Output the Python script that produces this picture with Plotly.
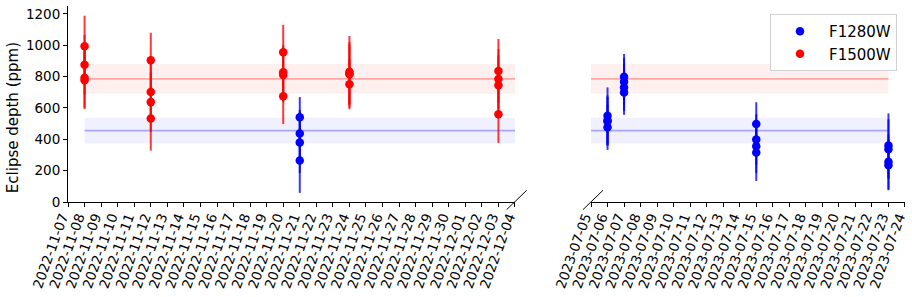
import plotly.graph_objects as go
import pandas as pd

# ---------------- data ----------------
F1280W_dates = ["2022-11-21", "2023-07-06", "2023-07-07", "2023-07-15", "2023-07-23"]
F1280W_depth = [[540, 437, 380, 265],
                [550, 520, 515, 476],
                [799, 767, 731, 699],
                [497, 399, 356, 316],
                [361, 337, 256, 235]]
F1280W_err = [[129, 150, 195, 207],
              [181, 160, 155, 144],
              [145, 150, 150, 143],
              [139, 160, 170, 182],
              [204, 190, 175, 160]]

F1500W_dates = ["2022-11-08", "2022-11-12", "2022-11-20", "2022-11-24", "2022-12-03"]
F1500W_depth = [[993, 875, 792, 777],
                [904, 701, 637, 533],
                [955, 827, 810, 674],
                [831, 820, 815, 751],
                [836, 785, 744, 559]]
F1500W_err = [[195, 190, 190, 185],
              [175, 185, 190, 205],
              [175, 175, 175, 177],
              [228, 200, 190, 160],
              [204, 190, 190, 182]]

F1280W_mean, F1280W_mean_err = 455, 82
F1500W_mean, F1500W_mean_err = 785, 95

left_range = ["2022-11-07", "2022-12-04"]
right_range = ["2023-07-05", "2023-07-24"]
y_range = [0, 1250]
y_ticks = [0, 200, 400, 600, 800, 1000, 1200]

FONT = "DejaVu Sans"

# ---------------- geometry ----------------
W, H = 912, 297
ml, mr, mt, mb = 68, 7, 6, 95.3
pw = W - ml - mr
ph = H - mt - mb
left_dom = [0, (515 - ml) / pw]
right_dom = [(591 - ml) / pw, 1.0]


def flatten(dates, vals, errs):
    xs, ys, es = [], [], []
    for d, v, e in zip(dates, vals, errs):
        for vi, ei in zip(v, e):
            xs.append(pd.Timestamp(d))
            ys.append(vi)
            es.append(ei)
    return xs, ys, es


series = [
    ("F1280W", F1280W_dates, F1280W_depth, F1280W_err, F1280W_mean, F1280W_mean_err,
     "blue", "rgba(0,0,255,0.78)", "rgba(0,0,255,0.06)", "rgba(0,0,255,0.3)"),
    ("F1500W", F1500W_dates, F1500W_depth, F1500W_err, F1500W_mean, F1500W_mean_err,
     "red", "rgba(255,0,0,0.78)", "rgba(255,0,0,0.06)", "rgba(255,0,0,0.3)"),
]

all_dates = [pd.Timestamp(d) for d in F1280W_dates + F1500W_dates]
dmin, dmax = min(all_dates), max(all_dates)

fig = go.Figure()

axes = [("x", "y", left_range), ("x2", "y2", right_range)]

# bands
for name, dates, vals, errs, m, me, col, ecol, fcol, lcol in series:
    for xa, ya, rng in axes:
        fig.add_trace(go.Scatter(x=[dmin, dmax], y=[m - me, m - me], mode="lines",
                                 line=dict(width=0), hoverinfo="skip", showlegend=False,
                                 xaxis=xa, yaxis=ya))
        fig.add_trace(go.Scatter(x=[dmin, dmax], y=[m + me, m + me], mode="lines",
                                 line=dict(width=0), fill="tonexty", fillcolor=fcol,
                                 hoverinfo="skip", showlegend=False, xaxis=xa, yaxis=ya))
        fig.add_trace(go.Scatter(x=[dmin, dmax], y=[m, m], mode="lines",
                                 line=dict(width=1.6, color=lcol), hoverinfo="skip",
                                 showlegend=False, xaxis=xa, yaxis=ya))

# points
for name, dates, vals, errs, m, me, col, ecol, fcol, lcol in series:
    xs, ys, es = flatten(dates, vals, errs)
    shown = False
    for xa, ya, rng in axes:
        lo, hi = pd.Timestamp(rng[0]), pd.Timestamp(rng[1])
        idx = [i for i, x in enumerate(xs) if lo <= x <= hi]
        if not idx:
            continue
        fig.add_trace(go.Scatter(
            x=[xs[i] for i in idx], y=[ys[i] for i in idx],
            error_y=dict(type="data", array=[es[i] for i in idx], color=ecol,
                         thickness=2, width=0),
            mode="markers", marker=dict(color=col, size=8.5),
            name=name, legendgroup=name, showlegend=not shown,
            xaxis=xa, yaxis=ya))
        shown = True

xcommon = dict(type="date", dtick=86400000, tickformat="%Y-%m-%d", tickangle=-70,
               showline=True, linecolor="black", linewidth=1, ticks="outside",
               ticklen=4, tickcolor="black", showgrid=False, zeroline=False,
               automargin=False, ticklabelshift=-6, ticklabelstandoff=-3,
               tickfont=dict(family=FONT, size=13.5, color="black"))

fig.update_layout(
    width=W, height=H,
    margin=dict(l=ml, r=mr, t=mt, b=mb, autoexpand=False),
    paper_bgcolor="white", plot_bgcolor="white",
    font=dict(family=FONT, color="black"),
    xaxis=dict(domain=left_dom, range=[left_range[0], left_range[1] + " 00:01"], **xcommon),
    xaxis2=dict(domain=right_dom, range=[right_range[0], right_range[1] + " 00:01"], **xcommon),
    yaxis=dict(range=y_range, tickvals=y_ticks, showline=True, linecolor="black",
               linewidth=1, ticks="outside", ticklen=4, tickcolor="black",
               showgrid=False, zeroline=False, automargin=False,
               tickfont=dict(family=FONT, size=13.5, color="black")),
    yaxis2=dict(range=y_range, anchor="x2", matches="y", visible=False),
    legend=dict(x=(897 - ml) / pw, y=1 - (14 - mt) / ph, xanchor="right", yanchor="top",
                bgcolor="white", bordercolor="#d0d0d0", borderwidth=1, itemwidth=48,
                font=dict(family=FONT, size=15), tracegroupgap=0),
    showlegend=True,
)

fig.add_annotation(text="Eclipse depth (ppm)", xref="paper", yref="paper",
                   x=(13 - ml) / pw, y=(mt + ph - 118) / ph, xanchor="center",
                   yanchor="middle", textangle=-90, showarrow=False,
                   font=dict(family=FONT, size=15, color="black"))

# broken-axis diagonal marks
def px2paper(px, py):
    return (px - ml) / pw, (mt + ph - py) / ph

for (x0, y0, x1, y1) in [(506.7, 209.3, 526.7, 190.0), (583.0, 209.3, 603.0, 190.0)]:
    a0, b0 = px2paper(x0, y0)
    a1, b1 = px2paper(x1, y1)
    fig.add_shape(type="line", xref="paper", yref="paper", x0=a0, y0=b0, x1=a1, y1=b1,
                  line=dict(color="black", width=1))

fig.write_html("out.html", config={"displayModeBar": False},
               post_script="document.body.style.margin='0px';document.body.style.overflow='hidden';")
